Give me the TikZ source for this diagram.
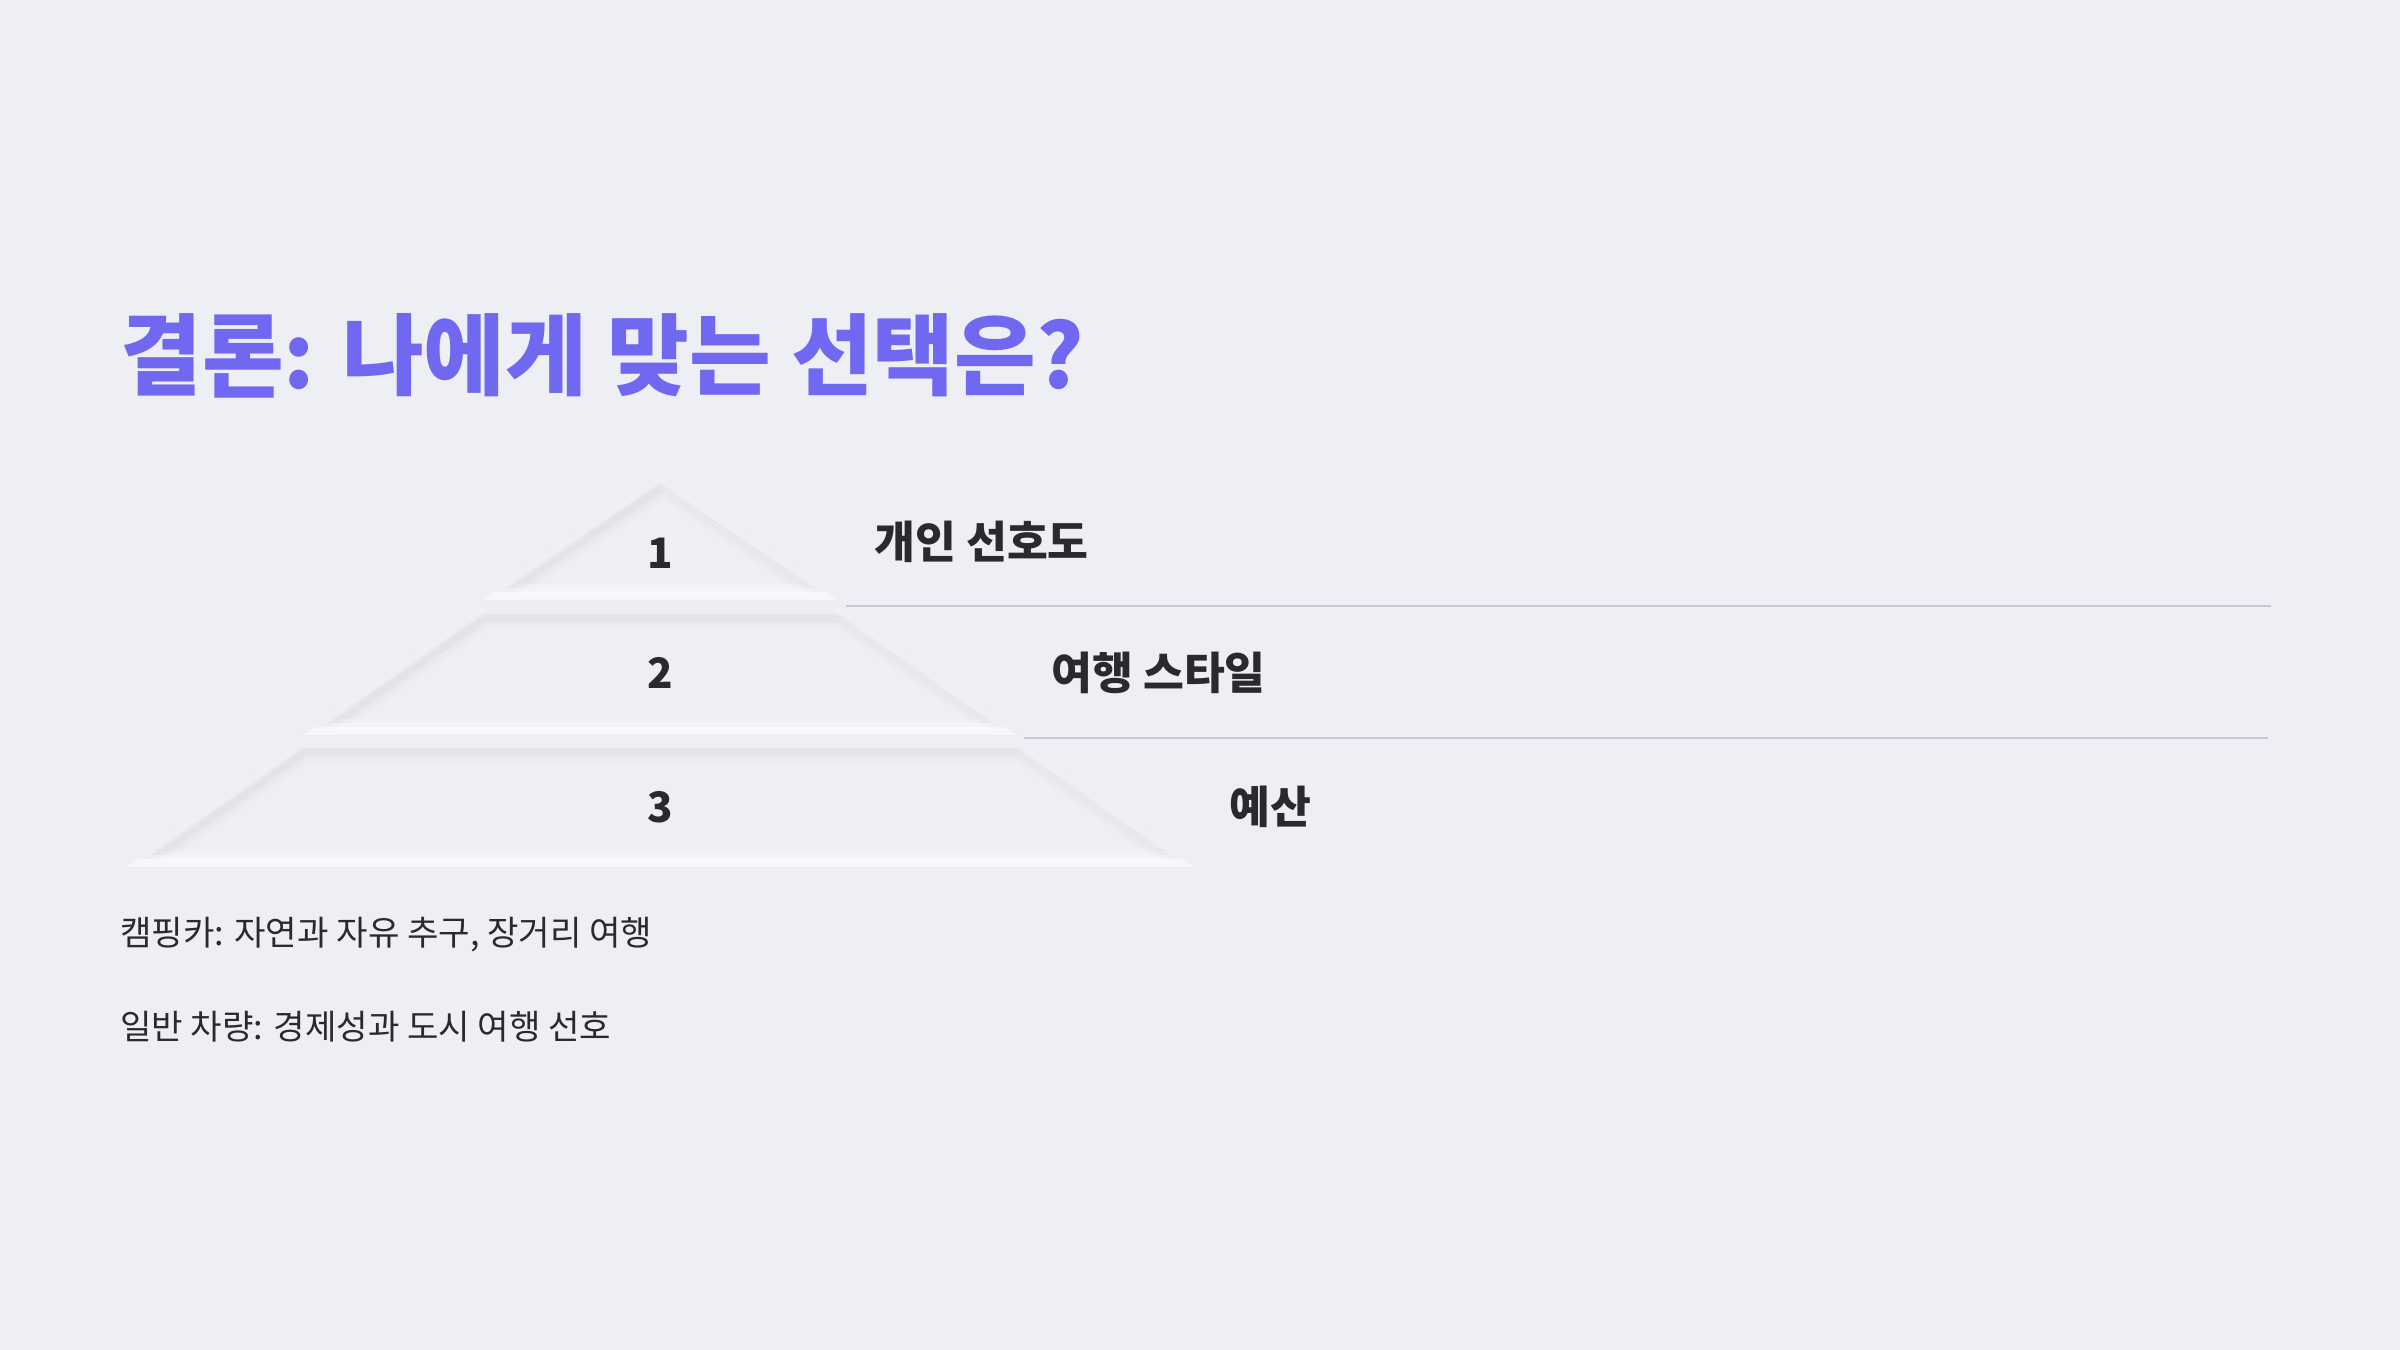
\documentclass[tikz,border=0pt]{standalone}
\usepackage{fontspec}
\setmainfont{Noto Sans CJK KR}
\definecolor{bgcol}{HTML}{EEEFF4}
\definecolor{titlecol}{HTML}{7168F2}
\definecolor{inkcol}{HTML}{2A2A2E}
\definecolor{rulecol}{HTML}{C6C6D8}
\definecolor{shadecol}{HTML}{C9CAD4}

\tikzset{
  tiernum/.style={font=\fontsize{21}{24}\selectfont\bfseries, text=inkcol, anchor=base, inner sep=0pt},
  tierlabel/.style={font=\fontsize{22.2}{26}\selectfont\bfseries, text=inkcol, anchor=base west, inner sep=0pt},
  notetext/.style={font=\fontsize{17.1}{20}\selectfont, text=inkcol, anchor=base west, inner sep=0pt},
  sepline/.style={draw=rulecol, line width=0.8pt},
}

% one step of the pyramid, soft inset look
\newcommand{\pyrtier}[1]{%
  \fill[bgcol] #1 -- cycle;
  \begin{scope}
    \clip #1 -- cycle;
    \foreach \w/\o in {14/0.10, 9/0.16, 5/0.22}{
      \draw[shadecol, line width=\w pt, opacity=\o, xshift=1.5pt, yshift=-1.5pt] #1 -- cycle;
    }
    \foreach \w/\o in {12/0.2, 8/0.35, 4/0.55}{
      \draw[white, line width=\w pt, opacity=\o, yshift=2pt] #1 -- cycle;
    }
  \end{scope}}

\begin{document}
\begin{tikzpicture}[x=0.5pt, y=-0.5pt]
\fill[bgcol] (0,0) rectangle (2400,1350);
\useasboundingbox (0,0) rectangle (2400,1350);

% pyramid
\pyrtier{(660,478) -- (839,600) -- (481,600)}
\pyrtier{(481,610) -- (839,610) -- (1017,735) -- (303,735)}
\pyrtier{(301,744) -- (1019,744) -- (1194,867) -- (126,867)}

\coordinate (E1) at (846,606);
\coordinate (F1) at (2271,606);
\coordinate (E2) at (1024,738);
\coordinate (F2) at (2268,738);

\node[font=\fontsize{44.4}{50}\selectfont\bfseries, text=titlecol, anchor=base west, inner sep=0pt] (TITLE) at (120,388) {결론: 나에게 맞는 선택은?};

\begin{scope}[every node/.style={tiernum}]
    \node (N1) at (660,568) {1};
    \node (N2) at (660,688) {2};
    \node (N3) at (660,822) {3};
\end{scope}

\begin{scope}[every node/.style={tierlabel}]
    \node (PREF) at (874,558) {개인 선호도};
    \node (STYLE) at (1051,689) {여행 스타일};
    \node (BUDGET) at (1229,823) {예산};
\end{scope}

% separators
\path[sepline] (E1) -- (F1);
\path[sepline] (E2) -- (F2);

\node[notetext] (CAMP) at (120,945) {캠핑카: 자연과 자유 추구, 장거리 여행};
\node[notetext] (CAR) at (120,1039) {일반 차량: 경제성과 도시 여행 선호};
\end{tikzpicture}
\end{document}
